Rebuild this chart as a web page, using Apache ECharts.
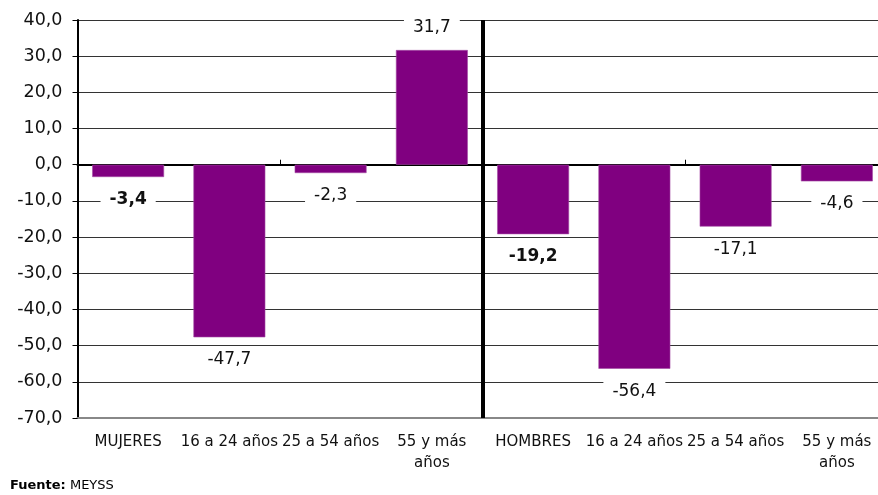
<!DOCTYPE html>
<html><head><meta charset="utf-8">
<script src="https://cdn.jsdelivr.net/npm/echarts@6/dist/echarts.min.js"></script>
<style>html,body{margin:0;padding:0;background:#fff;overflow:hidden}#c{width:888px;height:495px}</style>
</head><body><div id="c"></div>
<script>
const categories = ['MUJERES','16 a 24 años','25 a 54 años','55 y más años','HOMBRES','16 a 24 años','25 a 54 años','55 y más años'];
const values = [-3.4, -47.7, -2.3, 31.7, -19.2, -56.4, -17.1, -4.6];
const boldIdx = [0, 4];
const yTicks = [-70,-60,-50,-40,-30,-20,-10,0,10,20,30,40];
const source = 'MEYSS';

const font = 'DejaVu Sans';
const fmt = v => v.toFixed(1).replace('.', ',');
const chart = echarts.init(document.getElementById('c'), null, {renderer:'canvas'});
chart.setOption({
  animation:false,
  grid:{left:77.5, right:0.5, top:20, bottom:77, containLabel:false},
  xAxis:[{
    type:'category', data:categories, position:'bottom',
    axisLine:{onZero:false, lineStyle:{color:'#888', width:2}},
    axisTick:{show:false},
    axisLabel:{interval:0, margin:14, color:'#111', fontFamily:font, fontSize:15, lineHeight:21,
      formatter: s => s.replace('más ', 'más\n')}
  },{
    type:'category', data:categories, position:'bottom',
    axisLine:{onZero:true, lineStyle:{color:'#000', width:2}},
    axisTick:{show:true, interval:1, length:5, inside:true, lineStyle:{color:'#000'}},
    axisLabel:{show:false}
  },{
    type:'value', min:0, max:8, show:false
  }],
  yAxis:{
    type:'value', min:yTicks[0], max:yTicks[yTicks.length-1], interval:10,
    axisLine:{show:true, onZero:false, lineStyle:{color:'#000', width:2}},
    axisTick:{show:true, length:5, lineStyle:{color:'#000'}},
    axisLabel:{color:'#111', fontFamily:font, fontSize:17.5, margin:15, formatter: v => fmt(v)},
    splitLine:{lineStyle:{color:'#333', width:1}}
  },
  series:[{
    type:'bar', xAxisIndex:0, barWidth:'71%',
    itemStyle:{color:'#800080', borderColor:'#a54ca5', borderWidth:0.6},
    data: values.map((v,i)=>({value:v, label:{fontWeight: boldIdx.includes(i)?'bold':'normal'}})),
    label:{show:true, position: 'outside', fontFamily:font, fontSize:17, color:'#111',
      backgroundColor:'#fff', padding:[2,9], distance:12,
      formatter: p => fmt(p.value)},
    z:3
  },{
    type:'scatter', xAxisIndex:2, data:[],
    markLine:{silent:true, symbol:'none', label:{show:false},
      lineStyle:{color:'#000', width:4, type:'solid'},
      data:[{xAxis:4}]},
    z:5
  }],
  graphic:[{
    type:'text', left:10, top:479,
    style:{text:'{b|Fuente:} ' + source, font:'13px '+font, fill:'#000',
      rich:{b:{fontWeight:'bold', fontFamily:font, fontSize:13}}}
  }]
});
</script></body></html>
